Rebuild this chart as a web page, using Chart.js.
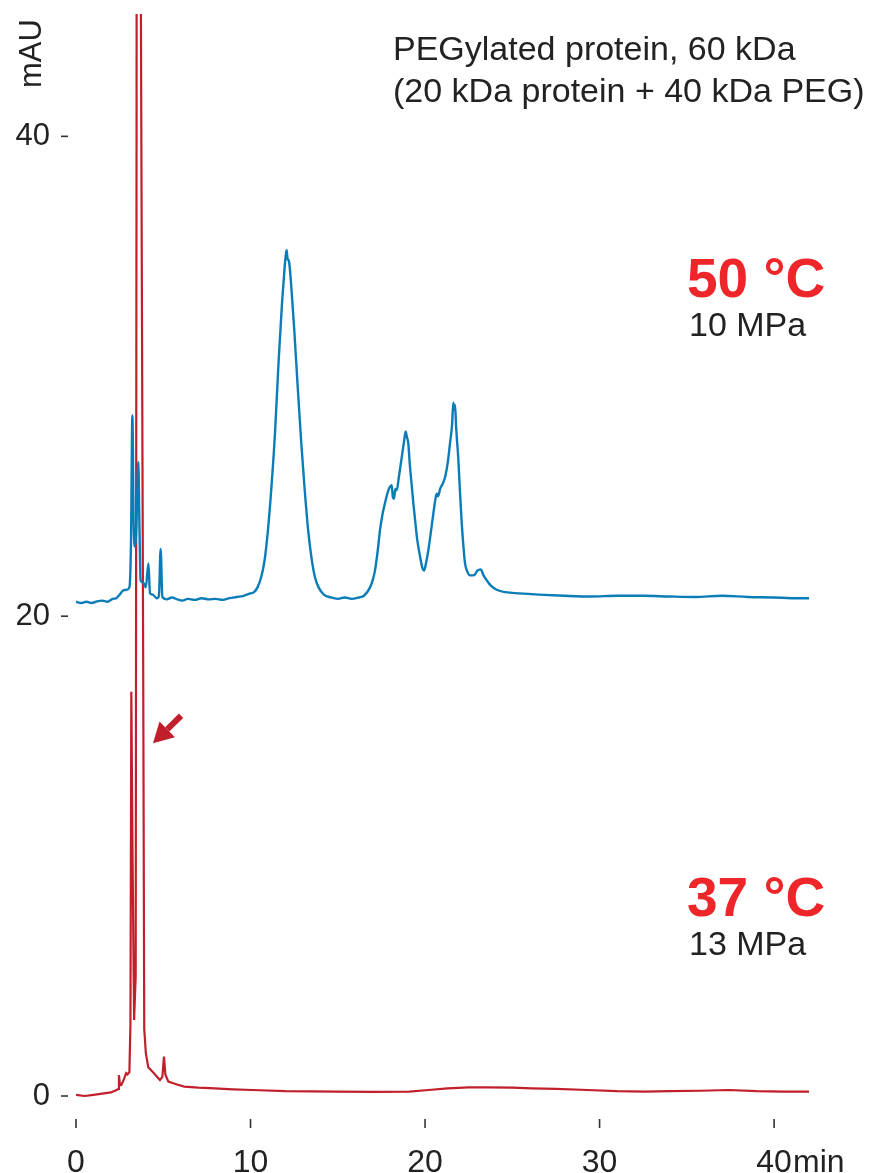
<!DOCTYPE html>
<html>
<head>
<meta charset="utf-8">
<script src="https://cdn.jsdelivr.net/npm/chart.js@4.4.1/dist/chart.umd.min.js"></script>
<style>
  html, body { margin:0; padding:0; background:#fff; }
  #wrap { width:874px; height:1173px; position:relative; }
</style>
</head>
<body>
<div id="wrap"><canvas id="c"></canvas></div>
<script>
// Chromatogram data (min, mAU)
const blueTime = [0, 0.3, 0.6, 0.9, 1.2, 1.5, 1.8, 2.1, 2.3, 2.5, 2.71, 2.9, 3.06, 3.15, 3.23, 3.3, 3.38, 3.45, 3.57, 3.63, 3.7, 3.86, 4.0, 4.15, 4.24, 4.4, 4.62, 4.75, 4.85, 4.95, 5.2, 5.5, 5.8, 6.1, 6.4, 6.8, 7.2, 7.6, 8.0, 8.4, 8.8, 9.2, 9.6, 10.0, 10.2, 10.4, 10.6, 10.8, 11.0, 11.2, 11.4, 11.6, 11.8, 11.95, 12.03, 12.07, 12.12, 12.2, 12.35, 12.5, 12.7, 12.9, 13.1, 13.3, 13.5, 13.7, 13.9, 14.2, 14.6, 15.0, 15.4, 15.8, 16.2, 16.5, 16.85, 17.0, 17.13, 17.3, 17.42, 17.55, 17.7, 17.9, 18.0, 18.09, 18.15, 18.22, 18.3, 18.38, 18.5, 18.66, 18.8, 18.89, 18.95, 19.04, 19.13, 19.23, 19.33, 19.43, 19.55, 19.71, 19.85, 19.94, 20.05, 20.19, 20.35, 20.48, 20.6, 20.67, 20.75, 20.86, 21.0, 21.15, 21.3, 21.43, 21.55, 21.62, 21.66, 21.72, 21.78, 21.91, 22.0, 22.1, 22.2, 22.29, 22.4, 22.58, 22.75, 22.87, 23.0, 23.19, 23.35, 23.53, 23.8, 24.1, 24.6, 25.4, 26.5, 28, 29.5, 31, 32.5, 34, 35.5, 37, 38.5, 40, 41, 42];
const blueMAU  = [20.6, 20.55, 20.6, 20.55, 20.62, 20.65, 20.6, 20.72, 20.75, 20.9, 21.08, 21.1, 21.2, 23, 28.37, 24, 22.9, 23.5, 26.43, 24, 21.5, 21.4, 21.2, 22.2, 20.95, 20.9, 20.75, 20.85, 22.8, 20.8, 20.7, 20.78, 20.7, 20.65, 20.72, 20.68, 20.75, 20.7, 20.72, 20.68, 20.75, 20.8, 20.85, 20.95, 21.0, 21.2, 21.6, 22.3, 23.6, 25.4, 27.6, 30.5, 33.0, 34.5, 35.1, 35.25, 34.9, 34.8, 33.6, 32.0, 29.6, 27.3, 25.3, 23.6, 22.4, 21.6, 21.2, 20.9, 20.78, 20.72, 20.78, 20.72, 20.78, 20.85, 21.2, 21.5, 21.9, 22.8, 23.6, 24.2, 24.7, 25.25, 25.4, 25.46, 25.0, 24.9, 25.3, 25.25, 25.8, 26.6, 27.3, 27.7, 27.5, 27.2, 26.3, 25.5, 24.7, 24.0, 23.2, 22.5, 22.0, 21.9, 22.2, 22.75, 23.6, 24.3, 24.9, 25.1, 25.0, 25.3, 25.5, 25.8, 26.4, 27.2, 28.0, 28.9, 28.6, 28.8, 27.9, 26.5, 25.2, 23.9, 22.9, 22.2, 21.9, 21.7, 21.7, 21.75, 21.9, 21.95, 21.7, 21.5, 21.25, 21.1, 21.0, 20.95, 20.9, 20.85, 20.82, 20.85, 20.85, 20.82, 20.8, 20.85, 20.8, 20.78, 20.75, 20.75];

const redTime = [0, 0.5, 1.0, 1.5, 2.0, 2.33, 2.42, 2.46, 2.52, 2.6, 2.75, 2.87, 2.95, 3.06, 3.12, 3.17, 3.24, 3.33, 3.42, 3.47, 3.52, 3.6, 3.68, 3.72, 3.85, 3.91, 4.0, 4.14, 4.4, 4.81, 4.95, 5.04, 5.12, 5.29, 5.7, 6.2, 7.0, 7.68, 9.0, 10.1, 12.0, 14.9, 17.0, 19.1, 20.2, 21.3, 22.5, 23.6, 25.0, 26.1, 27.5, 29.3, 31, 32.6, 34, 35.8, 37.4, 39, 40.5, 42];
const redMAU  = [0.05, 0.0, 0.05, 0.1, 0.15, 0.25, 0.3, 0.87, 0.45, 0.46, 0.7, 0.95, 0.9, 1.0, 3, 16.85, 10, 3.17, 5, 40, 120, 160, 90, 45, 18, 2.8, 1.8, 1.2, 1.0, 0.67, 0.8, 1.64, 0.9, 0.6, 0.5, 0.39, 0.35, 0.33, 0.28, 0.25, 0.2, 0.18, 0.17, 0.18, 0.25, 0.32, 0.36, 0.36, 0.35, 0.32, 0.3, 0.25, 0.2, 0.18, 0.2, 0.22, 0.25, 0.2, 0.18, 0.18];

const xTicks = [0, 10, 20, 30, 40];
const yTicks = [0, 20, 40];

const FONT = "'Liberation Sans', Arial, Helvetica, sans-serif";
const BLUE = '#0a7db8', RED_LINE = '#c11f2b', RED_TXT = '#ee2529';

// annotations, tick dashes, arrow
const extras = {
  id: 'extras',
  afterDraw(chart) {
    const {ctx, scales:{x, y}} = chart;
    ctx.save();
    ctx.strokeStyle = '#333'; ctx.lineWidth = 1.6;
    yTicks.forEach(v => { const py = y.getPixelForValue(v); ctx.beginPath(); ctx.moveTo(61, py); ctx.lineTo(68, py); ctx.stroke(); });
    xTicks.forEach(v => { const px = x.getPixelForValue(v); ctx.beginPath(); ctx.moveTo(px, 1119); ctx.lineTo(px, 1128); ctx.stroke(); });

    ctx.fillStyle = '#222';
    ctx.font = '32px ' + FONT;
    ctx.textBaseline = 'alphabetic'; ctx.textAlign = 'left';
    ctx.fillText('min', x.getPixelForValue(40) + 19, 1172);

    // y axis unit
    ctx.save();
    ctx.translate(41, 88); ctx.rotate(-Math.PI/2);
    ctx.font = '31px ' + FONT; ctx.fillText('mAU', 0, 0);
    ctx.restore();

    ctx.font = '34px ' + FONT;
    ctx.fillText('PEGylated protein, 60 kDa', 393, 60);
    ctx.fillText('(20 kDa protein + 40 kDa PEG)', 393, 102);

    ctx.fillStyle = RED_TXT; ctx.font = 'bold 55px ' + FONT;
    ctx.fillText('50 °C', 687, 297);
    ctx.fillText('37 °C', 687, 916);
    ctx.fillStyle = '#222'; ctx.font = '34px ' + FONT;
    ctx.fillText('10 MPa', 689, 336);
    ctx.fillText('13 MPa', 689, 955);

    // arrow pointing at the main red peak
    const tipX = x.getPixelForValue(4.41), tipY = y.getPixelForValue(14.7);
    const tailX = x.getPixelForValue(6.02), tailY = y.getPixelForValue(15.85);
    const ang = Math.atan2(tipY - tailY, tipX - tailX);
    const head = 20, hw = 11;
    const bx = tipX - head*Math.cos(ang), by = tipY - head*Math.sin(ang);
    ctx.strokeStyle = RED_LINE; ctx.fillStyle = RED_LINE; ctx.lineWidth = 6;
    ctx.beginPath(); ctx.moveTo(tailX, tailY); ctx.lineTo(bx, by); ctx.stroke();
    ctx.beginPath();
    ctx.moveTo(tipX, tipY);
    ctx.lineTo(bx + hw*Math.sin(ang), by - hw*Math.cos(ang));
    ctx.lineTo(bx - hw*Math.sin(ang), by + hw*Math.cos(ang));
    ctx.closePath(); ctx.fill();
    ctx.restore();
  }
};

new Chart(document.getElementById('c'), {
  type: 'line',
  data: {
    datasets: [
      { label: '50 °C', data: blueTime.map((t,i)=>({x:t, y:blueMAU[i]})), borderColor: BLUE, borderWidth: 2.4, pointRadius: 0, cubicInterpolationMode: 'monotone' },
      { label: '37 °C', data: redTime.map((t,i)=>({x:t, y:redMAU[i]})), borderColor: RED_LINE, borderWidth: 2.2, pointRadius: 0, tension: 0 }
    ]
  },
  options: {
    responsive: true, maintainAspectRatio: false, animation: false,
    devicePixelRatio: 1,
    layout: { padding: { left: 0, right: 65, top: 14, bottom: 0 } },
    plugins: { legend: { display: false }, tooltip: { enabled: false } },
    scales: {
      x: {
        type: 'linear', min: 0, max: 42,
        grid: { display: false, drawTicks: false }, border: { display: false },
        afterBuildTicks: s => { s.ticks = xTicks.map(v => ({value: v})); },
        afterFit: s => { s.height = 65; s.paddingLeft = 0; s.paddingRight = 0; },
        ticks: { padding: 36, color: '#222', font: { size: 32, family: FONT } }
      },
      y: {
        min: -0.5, max: 45.1,
        grid: { display: false, drawTicks: false }, border: { display: false },
        afterBuildTicks: s => { s.ticks = yTicks.map(v => ({value: v})); },
        afterFit: s => { s.width = 76; s.paddingTop = 0; s.paddingBottom = 0; },
        ticks: { padding: 26, color: '#222', font: { size: 31, family: FONT } }
      }
    }
  },
  plugins: [extras]
});
</script>
</body>
</html>
